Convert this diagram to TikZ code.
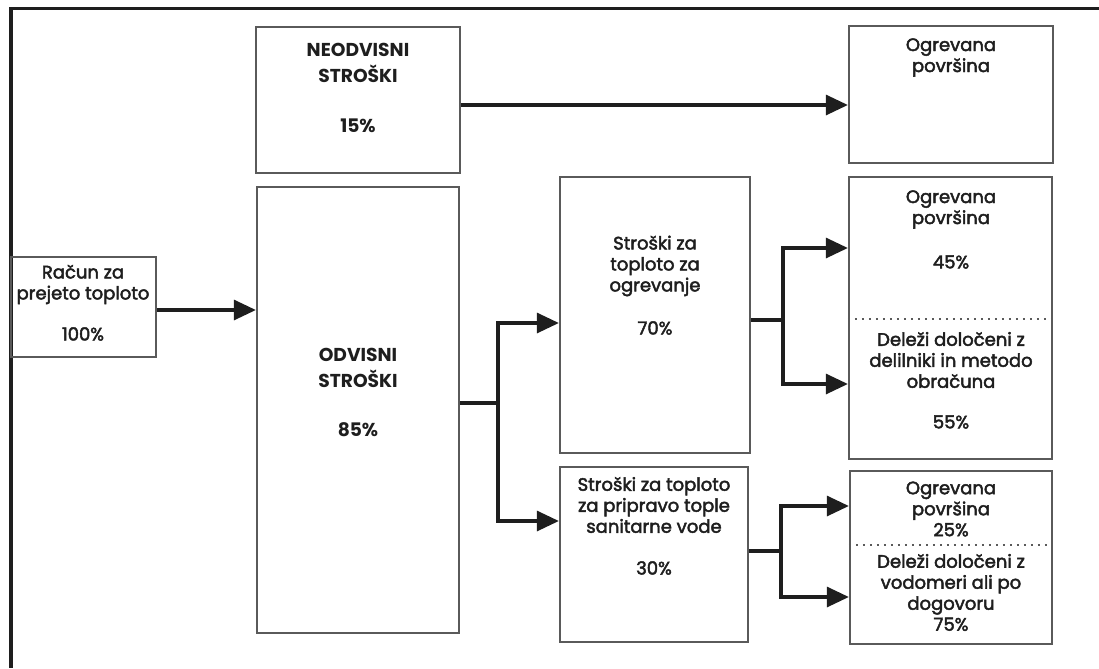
\documentclass[tikz,border=0pt]{standalone}
\usepackage{fontspec}
\setmainfont{Poppins}
\newfontfamily\medfont{Poppins}[FakeBold=2.5]
\usetikzlibrary{arrows.meta,fit}
\definecolor{boxgray}{HTML}{5A5A5A}
\definecolor{ink}{HTML}{1E1E1E}
\tikzset{
  box/.style={draw=boxgray, line width=1.7pt, inner sep=0pt, fill=none},
  txt/.style={align=center, inner sep=0pt, text=ink, font=\medfont\fontsize{13.5}{15.75}\selectfont},
  head/.style={align=center, inner sep=0pt, text=ink, font=\fontsize{14}{19}\selectfont\bfseries},
  conn/.style={draw=ink, line width=2.3pt},
  arr/.style={conn, -{Triangle[length=16.5pt,width=15pt]}},
  dotsep/.style={draw=boxgray, line width=1.2pt, dash pattern=on 1.5pt off 3.75pt},
  frame/.style={draw=ink, line width=2.4pt}
}
\begin{document}
\begin{tikzpicture}[x=0.75pt,y=-0.75pt]
\useasboundingbox (0,0) rectangle (1099,668);
% frame
\draw[frame] (1099,8.5) -- (11,8.5) -- (11,668);
% boxes
\node[box, fit={(11,257) (156,357)}] (racun) {};
\node[box, fit={(256,27) (460,173)}] (neo) {};
\node[box, fit={(257,187) (459,633)}] (odv) {};
\node[box, fit={(849,26) (1053,163)}] (ogr1) {};
\node[box, fit={(560,177) (750,453)}] (ogrj) {};
\node[box, fit={(849,177) (1052,459)}] (r2) {};
\node[box, fit={(560,467) (748,642)}] (san) {};
\node[box, fit={(850,471) (1052,644)}] (r3) {};
% dotted separators
\draw[dotsep] (r2.west |- 0,319) -- (r2.east |- 0,319);
\draw[dotsep] (r3.west |- 0,545) -- (r3.east |- 0,545);
% texts
\node[txt] (racunT) at (83,284.5) {Račun za\\prejeto toploto};
\node[txt] (racunP) at (83,334) {100\%};
\node[head] (neoT) at (358,63) {NEODVISNI\\STROŠKI};
\node[head] (neoP) at (358,126) {15\%};
\node[head] (odvT) at (358,368) {ODVISNI\\STROŠKI};
\node[head] (odvP) at (358,430) {85\%};
\node[txt] (ogr1T) at (951,57.5) {Ogrevana\\površina};
\node[txt] (ogrjT) at (655,266) {Stroški za\\toploto za\\ogrevanje};
\node[txt] (ogrjP) at (655,328) {70\%};
\node[txt] (r2T) at (951,209.5) {Ogrevana\\površina};
\node[txt] (r2P) at (951,262) {45\%};
\node[txt] (r2D) at (951,360) {Deleži določeni z\\delilniki in metodo\\obračuna};
\node[txt] (r2Q) at (951,422) {55\%};
\node[txt] (sanT) at (654,505) {Stroški za toploto\\za pripravo tople\\sanitarne vode};
\node[txt] (sanP) at (654,568) {30\%};
\node[txt] (r3T) at (951,509) {Ogrevana\\površina\\25\%};
\node[txt] (r3D) at (951,592.5) {Deleži določeni z\\vodomeri ali po\\dogovoru\\75\%};
% junctions
\coordinate (j1) at (498,403);
\coordinate (j2) at (783,320);
\coordinate (j3) at (781,551);
% connectors
\draw[arr] (racun.east |- 0,310) -- (odv.west |- 0,310);
\draw[arr] (neo.east |- 0,105) -- (ogr1.west |- 0,105);
\draw[conn] (odv.east |- j1) -- (j1);
\draw[arr] (j1) |- (ogrj.west |- 0,323);
\draw[arr] (j1) |- (san.west |- 0,521);
\draw[conn] (ogrj.east |- j2) -- (j2);
\draw[arr] (j2) |- (r2.west |- 0,248);
\draw[arr] (j2) |- (r2.west |- 0,384);
\draw[conn] (san.east |- j3) -- (j3);
\draw[arr] (j3) |- (r3.west |- 0,506);
\draw[arr] (j3) |- (r3.west |- 0,597);
\end{tikzpicture}
\end{document}
